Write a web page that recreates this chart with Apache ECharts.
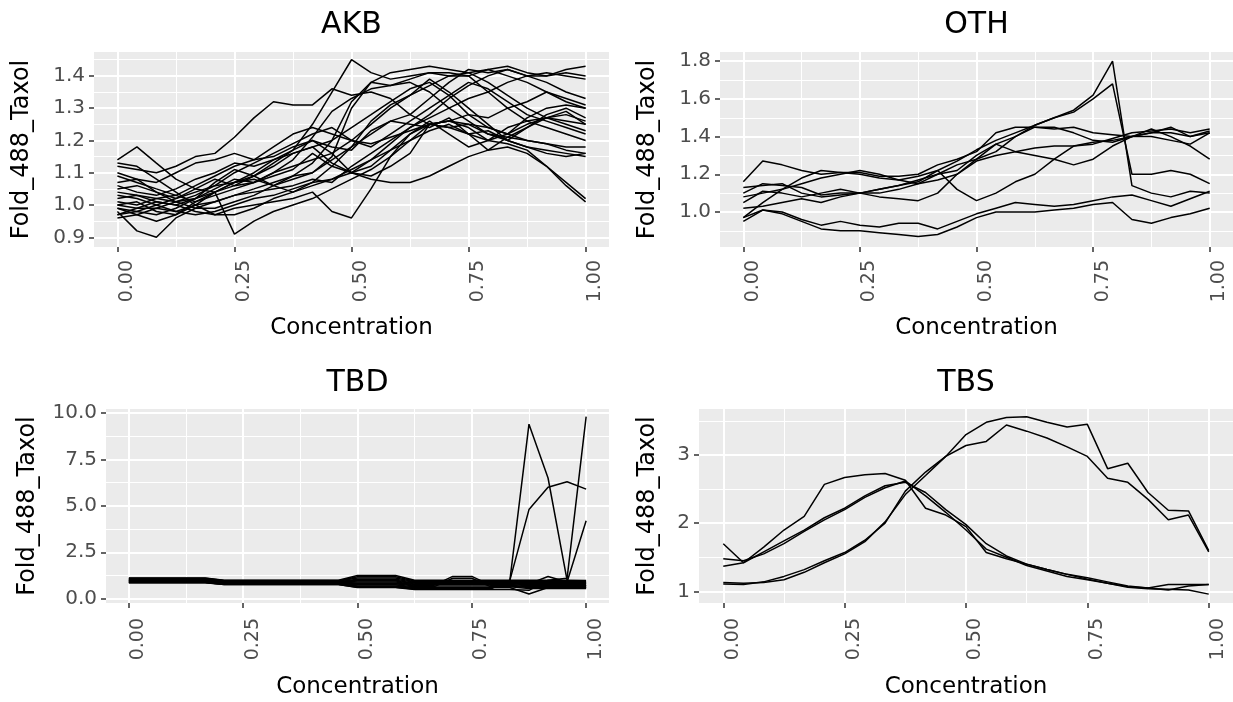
<!DOCTYPE html>
<html>
<head>
<meta charset="utf-8">
<script src="https://cdn.jsdelivr.net/npm/echarts@6/dist/echarts.min.js"></script>
<style>
html,body{margin:0;padding:0;background:#fff;}
#main{width:1233px;height:702px;}
</style>
</head>
<body>
<div id="main"></div>
<script>
// concentration steps shared by all four panels
var conc = [0, 0.0417, 0.0833, 0.125, 0.1667, 0.2083, 0.25, 0.2917, 0.3333, 0.375, 0.4167, 0.4583, 0.5,
            0.5417, 0.5833, 0.625, 0.6667, 0.7083, 0.75, 0.7917, 0.8333, 0.875, 0.9167, 0.9583, 1];

var xMajor = [0, 0.25, 0.5, 0.75, 1];
var xMinor = [0.125, 0.375, 0.625, 0.875];

var akbMajor = [0.9, 1.0, 1.1, 1.2, 1.3, 1.4];
var akbMinor = [0.95, 1.05, 1.15, 1.25, 1.35, 1.45];
var othMajor = [1.0, 1.2, 1.4, 1.6, 1.8];
var othMinor = [0.9, 1.1, 1.3, 1.5, 1.7];
var tbdMajor = [0, 2.5, 5, 7.5, 10];
var tbdMinor = [1.25, 3.75, 6.25, 8.75];
var tbsMajor = [1, 2, 3];
var tbsMinor = [1.5, 2.5, 3.5];

var akbLines = [
  [1.14,1.18,1.13,1.08,1.05,1.04,1.07,1.10,1.14,1.17,1.20,1.18,1.17,1.23,1.26,1.28,1.33,1.38,1.42,1.41,1.42,1.40,1.38,1.35,1.33],
  [1.12,1.11,1.10,1.12,1.15,1.16,1.21,1.27,1.32,1.31,1.31,1.36,1.34,1.35,1.33,1.28,1.25,1.24,1.25,1.22,1.21,1.20,1.19,1.17,1.16],
  [1.10,1.08,1.04,1.01,0.99,0.99,1.01,1.03,1.06,1.09,1.13,1.20,1.32,1.38,1.41,1.42,1.43,1.42,1.41,1.42,1.43,1.41,1.40,1.42,1.43],
  [1.03,1.02,1.00,0.98,1.00,1.04,1.07,1.09,1.13,1.17,1.25,1.35,1.45,1.41,1.39,1.40,1.41,1.40,1.41,1.38,1.34,1.30,1.27,1.26,1.25],
  [0.98,0.92,0.90,0.96,0.99,1.01,1.03,1.05,1.07,1.09,1.10,1.14,1.18,1.22,1.26,1.25,1.24,1.27,1.22,1.17,1.21,1.24,1.27,1.25,1.23],
  [0.97,0.98,1.00,1.02,1.05,1.08,1.06,1.09,1.12,1.16,1.18,1.13,1.10,1.14,1.19,1.24,1.28,1.33,1.37,1.40,1.42,1.40,1.41,1.40,1.39],
  [1.00,1.01,0.98,0.97,1.01,1.04,0.91,0.95,0.98,1.00,1.02,1.05,1.08,1.11,1.15,1.20,1.25,1.26,1.24,1.20,1.22,1.27,1.30,1.31,1.30],
  [1.02,1.03,1.02,1.01,1.02,1.04,1.06,1.07,1.10,1.14,1.21,1.29,1.33,1.36,1.37,1.38,1.35,1.30,1.26,1.22,1.20,1.18,1.17,1.16,1.15],
  [0.96,0.97,0.99,0.98,0.97,0.98,1.00,1.02,1.03,1.05,1.07,1.08,1.10,1.09,1.12,1.16,1.25,1.26,1.28,1.27,1.30,1.32,1.35,1.33,1.31],
  [1.07,1.08,1.07,1.10,1.13,1.14,1.16,1.14,1.15,1.18,1.20,1.16,1.20,1.25,1.30,1.34,1.39,1.35,1.30,1.25,1.20,1.24,1.28,1.30,1.27],
  [0.99,0.98,0.97,0.99,1.02,1.07,1.11,1.09,1.06,1.04,1.06,1.08,1.11,1.14,1.17,1.22,1.26,1.22,1.18,1.20,1.24,1.26,1.27,1.29,1.25],
  [1.01,1.00,1.02,1.03,1.06,1.09,1.12,1.14,1.18,1.22,1.24,1.22,1.20,1.18,1.22,1.26,1.30,1.34,1.38,1.36,1.32,1.28,1.26,1.24,1.22],
  [0.97,0.99,1.01,1.00,0.98,0.97,0.99,1.00,1.01,1.02,1.04,0.98,0.96,1.05,1.15,1.22,1.25,1.24,1.22,1.23,1.20,1.18,1.16,1.15,1.16],
  [1.04,1.03,1.01,1.00,1.02,1.05,1.08,1.07,1.09,1.11,1.16,1.12,1.10,1.12,1.17,1.20,1.23,1.25,1.22,1.20,1.19,1.17,1.12,1.06,1.01],
  [1.09,1.07,1.05,1.03,1.01,1.03,1.05,1.07,1.10,1.12,1.14,1.16,1.10,1.08,1.07,1.07,1.09,1.12,1.15,1.17,1.18,1.16,1.12,1.07,1.02],
  [1.13,1.12,1.08,1.04,1.00,0.97,0.97,0.99,1.02,1.04,1.07,1.12,1.18,1.26,1.31,1.34,1.37,1.40,1.40,1.42,1.40,1.38,1.35,1.32,1.30],
  [0.99,0.97,0.95,0.97,1.00,1.01,1.03,1.04,1.05,1.06,1.08,1.07,1.12,1.16,1.20,1.24,1.27,1.30,1.33,1.35,1.38,1.40,1.40,1.41,1.40],
  [1.05,1.06,1.04,1.02,1.04,1.06,1.10,1.13,1.16,1.19,1.22,1.24,1.20,1.19,1.21,1.23,1.25,1.26,1.25,1.24,1.22,1.25,1.27,1.28,1.26],
  [1.00,0.99,0.99,1.01,1.03,1.06,1.07,1.08,1.06,1.08,1.10,1.15,1.30,1.38,1.37,1.39,1.41,1.41,1.40,1.35,1.30,1.26,1.24,1.22,1.20],
  [1.06,1.04,1.03,1.05,1.08,1.10,1.13,1.12,1.14,1.16,1.18,1.20,1.24,1.28,1.32,1.36,1.38,1.34,1.28,1.24,1.22,1.20,1.19,1.18,1.18]
];

var othLines = [
  [0.97,1.05,1.12,1.18,1.22,1.21,1.20,1.18,1.17,1.19,1.22,1.27,1.33,1.38,1.42,1.46,1.50,1.54,1.62,1.80,1.14,1.10,1.08,1.11,1.10],
  [1.08,1.10,1.12,1.15,1.18,1.20,1.22,1.20,1.17,1.15,1.20,1.25,1.28,1.32,1.40,1.46,1.50,1.53,1.60,1.68,1.20,1.20,1.22,1.20,1.15],
  [1.16,1.27,1.25,1.22,1.20,1.21,1.21,1.19,1.19,1.20,1.25,1.28,1.32,1.42,1.45,1.45,1.44,1.45,1.42,1.41,1.40,1.44,1.40,1.35,1.28],
  [1.13,1.14,1.15,1.10,1.08,1.09,1.10,1.08,1.07,1.06,1.10,1.20,1.28,1.36,1.40,1.45,1.45,1.42,1.38,1.37,1.40,1.42,1.45,1.40,1.42],
  [1.10,1.15,1.14,1.13,1.09,1.10,1.10,1.12,1.14,1.17,1.20,1.22,1.30,1.36,1.32,1.30,1.28,1.25,1.28,1.35,1.40,1.42,1.42,1.40,1.43],
  [1.05,1.11,1.10,1.08,1.10,1.12,1.10,1.10,1.12,1.15,1.17,1.20,1.27,1.30,1.32,1.34,1.35,1.35,1.36,1.39,1.42,1.43,1.44,1.42,1.44],
  [1.02,1.03,1.05,1.07,1.05,1.08,1.10,1.12,1.14,1.16,1.22,1.12,1.06,1.10,1.16,1.20,1.28,1.35,1.37,1.38,1.40,1.40,1.38,1.36,1.42],
  [0.97,1.01,0.99,0.95,0.91,0.90,0.90,0.89,0.88,0.87,0.88,0.92,0.97,1.00,1.00,1.00,1.01,1.02,1.04,1.05,0.96,0.94,0.97,0.99,1.02],
  [0.95,1.01,1.00,0.96,0.93,0.95,0.93,0.92,0.94,0.94,0.91,0.95,0.99,1.02,1.05,1.04,1.03,1.04,1.06,1.08,1.09,1.06,1.03,1.07,1.11]
];

var tbdLines = [
  [1.12,1.12,1.12,1.12,1.12,1.00,1.00,1.00,1.00,1.00,1.00,1.00,1.25,1.25,1.25,1.00,1.00,1.00,1.00,1.00,1.00,1.00,1.00,1.00,0.98],
  [1.08,1.08,1.08,1.08,1.08,0.97,0.97,0.97,0.97,0.97,0.97,0.97,1.18,1.18,1.18,0.96,0.96,0.96,0.96,0.96,0.96,0.92,0.94,0.92,0.92],
  [1.05,1.05,1.05,1.05,1.05,0.95,0.95,0.95,0.95,0.95,0.95,0.95,1.12,1.12,1.12,0.92,0.92,0.92,0.92,0.92,0.92,0.88,0.90,0.88,0.88],
  [1.02,1.02,1.02,1.02,1.02,0.92,0.92,0.92,0.92,0.92,0.92,0.92,1.05,1.05,1.05,0.88,0.88,0.88,0.88,0.88,0.88,0.84,0.86,0.84,0.84],
  [1.00,1.00,1.00,1.00,1.00,0.90,0.90,0.90,0.90,0.90,0.90,0.90,1.00,1.00,1.00,0.84,0.84,0.84,0.84,0.84,0.84,0.80,0.82,0.80,0.80],
  [0.98,0.98,0.98,0.98,0.98,0.88,0.88,0.88,0.88,0.88,0.88,0.88,0.95,0.95,0.95,0.80,0.80,0.80,0.80,0.80,0.80,0.75,0.76,0.75,0.75],
  [0.96,0.96,0.96,0.96,0.96,0.86,0.86,0.86,0.86,0.86,0.86,0.86,0.90,0.90,0.90,0.76,0.76,0.76,0.76,0.76,0.76,0.70,0.70,0.70,0.70],
  [0.94,0.94,0.94,0.94,0.94,0.84,0.84,0.84,0.84,0.84,0.84,0.84,0.85,0.85,0.85,0.72,0.72,1.20,1.20,0.72,0.72,0.65,0.66,0.65,0.65],
  [0.92,0.92,0.92,0.92,0.92,0.82,0.82,0.82,0.82,0.82,0.82,0.82,0.80,0.80,0.80,0.68,0.68,0.68,0.68,0.68,0.68,0.60,0.60,0.60,0.60],
  [0.90,0.90,0.90,0.90,0.90,0.80,0.80,0.80,0.80,0.80,0.80,0.80,0.74,0.74,0.74,0.64,0.64,1.10,1.10,0.64,0.64,0.55,0.56,0.55,0.55],
  [0.88,0.88,0.88,0.88,0.88,0.78,0.78,0.78,0.78,0.78,0.78,0.78,0.68,0.68,0.68,0.60,0.60,0.60,0.60,0.60,0.60,0.25,0.60,0.70,0.60],
  [1.10,1.10,1.10,1.10,1.10,0.98,0.98,0.98,0.98,0.98,0.98,0.98,0.65,0.65,0.65,0.56,0.56,0.56,0.56,0.56,1.00,9.40,6.50,1.00,0.70],
  [0.87,0.87,0.87,0.87,0.87,0.77,0.77,0.77,0.77,0.77,0.77,0.77,0.62,0.62,0.62,0.53,0.53,0.53,0.53,0.53,1.00,4.80,6.00,6.30,5.90],
  [0.86,0.86,0.86,0.86,0.86,0.76,0.76,0.76,0.76,0.76,0.76,0.76,0.60,0.60,0.60,0.50,0.50,0.50,0.50,0.50,0.50,0.45,1.00,1.10,9.80],
  [1.00,1.00,1.00,1.00,1.00,0.85,0.85,0.85,0.85,0.85,0.85,0.85,0.78,0.78,0.78,0.90,0.90,0.90,0.90,0.90,0.90,0.80,1.20,0.90,4.20]
];

var tbsLines = [
  [1.11,1.10,1.14,1.22,1.32,1.45,1.57,1.75,2.00,2.47,2.75,2.98,3.30,3.48,3.55,3.56,3.48,3.41,3.45,2.80,2.88,2.45,2.19,2.18,1.60],
  [1.13,1.12,1.13,1.17,1.28,1.42,1.55,1.73,2.02,2.42,2.70,2.98,3.14,3.20,3.44,3.35,3.25,3.12,2.98,2.66,2.60,2.35,2.05,2.12,1.58],
  [1.70,1.42,1.65,1.90,2.10,2.57,2.67,2.71,2.73,2.63,2.22,2.12,1.95,1.57,1.48,1.40,1.32,1.25,1.18,1.12,1.06,1.04,1.03,1.02,0.96],
  [1.48,1.45,1.55,1.70,1.88,2.05,2.20,2.38,2.52,2.62,2.40,2.16,1.90,1.62,1.50,1.38,1.30,1.22,1.17,1.12,1.07,1.05,1.10,1.10,1.10],
  [1.37,1.42,1.58,1.74,1.90,2.08,2.22,2.40,2.55,2.60,2.45,2.20,1.98,1.70,1.52,1.40,1.32,1.25,1.20,1.14,1.08,1.05,1.02,1.08,1.10]
];

var FONT = 'DejaVu Sans';

var panels = [
  {title: 'AKB', lines: akbLines, major: akbMajor, minor: akbMinor, yMin: 0.870, yMax: 1.474, digits: 1,
   box: {left: 94, top: 52, width: 515, height: 195}, yGap: 60, xGap: 70, labelMargin: 13, titleY: 25},
  {title: 'OTH', lines: othLines, major: othMajor, minor: othMinor, yMin: 0.814, yMax: 1.849, digits: 1,
   box: {left: 720, top: 52, width: 513, height: 195}, yGap: 60, xGap: 70, labelMargin: 13, titleY: 25},
  {title: 'TBD', lines: tbdLines, major: tbdMajor, minor: tbdMinor, yMin: -0.23, yMax: 10.215, digits: 1,
   box: {left: 106, top: 409, width: 503, height: 194}, yGap: 66, xGap: 73, labelMargin: 15, titleY: 383},
  {title: 'TBS', lines: tbsLines, major: tbsMajor, minor: tbsMinor, yMin: 0.83, yMax: 3.675, digits: 0,
   box: {left: 699, top: 409, width: 534, height: 194}, yGap: 39, xGap: 73, labelMargin: 15, titleY: 383}
];

var grid = [], xAxis = [], yAxis = [], series = [], graphic = [];

panels.forEach(function (p, k) {
  grid.push({
    left: p.box.left, top: p.box.top, width: p.box.width, height: p.box.height,
    show: true, backgroundColor: '#EBEBEB', borderWidth: 0, outerBoundsMode: 'none'
  });
  // major x axis (ticks, labels, major grid)
  xAxis.push({
    gridIndex: k, type: 'value', min: -0.05, max: 1.05,
    name: 'Concentration', nameLocation: 'middle', nameGap: p.xGap, nameMoveOverlap: false,
    nameTextStyle: {color: '#000', fontSize: 23, fontFamily: FONT},
    axisLine: {show: false, onZero: false},
    axisTick: {show: true, customValues: xMajor, length: 5, lineStyle: {color: '#333', width: 1.5}},
    axisLabel: {customValues: xMajor, rotate: 90, verticalAlign: 'top', margin: p.labelMargin,
      color: '#4D4D4D', fontSize: 19, fontFamily: FONT,
      formatter: function (v) { return v.toFixed(2); }},
    splitLine: {show: true, lineStyle: {color: '#fff', width: 2}}
  });
  // minor x grid
  xAxis.push({
    gridIndex: k, type: 'value', position: 'top', min: -0.05, max: 1.05,
    axisLine: {show: false, onZero: false},
    axisTick: {show: false, customValues: xMinor},
    axisLabel: {show: false, customValues: xMinor},
    splitLine: {show: true, lineStyle: {color: '#fff', width: 1}}
  });
  yAxis.push({
    gridIndex: k, type: 'value', min: p.yMin, max: p.yMax,
    name: 'Fold_488_Taxol', nameLocation: 'middle', nameGap: p.yGap, nameMoveOverlap: false,
    nameTextStyle: {color: '#000', fontSize: 24, fontFamily: FONT},
    axisLine: {show: false, onZero: false},
    axisTick: {show: true, customValues: p.major, length: 5, lineStyle: {color: '#333', width: 1.5}},
    axisLabel: {customValues: p.major, margin: 9, color: '#4D4D4D', fontSize: 20, fontFamily: FONT,
      formatter: (function (d) { return function (v) { return v.toFixed(d); }; })(p.digits)},
    splitLine: {show: true, lineStyle: {color: '#fff', width: 2}}
  });
  yAxis.push({
    gridIndex: k, type: 'value', position: 'right', min: p.yMin, max: p.yMax,
    axisLine: {show: false, onZero: false},
    axisTick: {show: false, customValues: p.minor},
    axisLabel: {show: false, customValues: p.minor},
    splitLine: {show: true, lineStyle: {color: '#fff', width: 1}}
  });
  p.lines.forEach(function (vals) {
    series.push({
      type: 'line', xAxisIndex: 2 * k, yAxisIndex: 2 * k,
      data: conc.map(function (x, i) { return [x, vals[i]]; }),
      showSymbol: false, symbol: 'none', silent: true, animation: false,
      lineStyle: {color: '#000', width: 1.5}
    });
  });
  graphic.push({
    type: 'text', x: p.box.left + p.box.width / 2, y: p.titleY,
    style: {text: p.title, fill: '#000', font: '30px "' + FONT + '"', textAlign: 'center', textVerticalAlign: 'middle'}
  });
});

var chart = echarts.init(document.getElementById('main'));
chart.setOption({
  animation: false,
  grid: grid,
  xAxis: xAxis,
  yAxis: yAxis,
  series: series,
  graphic: graphic
});
</script>
</body>
</html>
